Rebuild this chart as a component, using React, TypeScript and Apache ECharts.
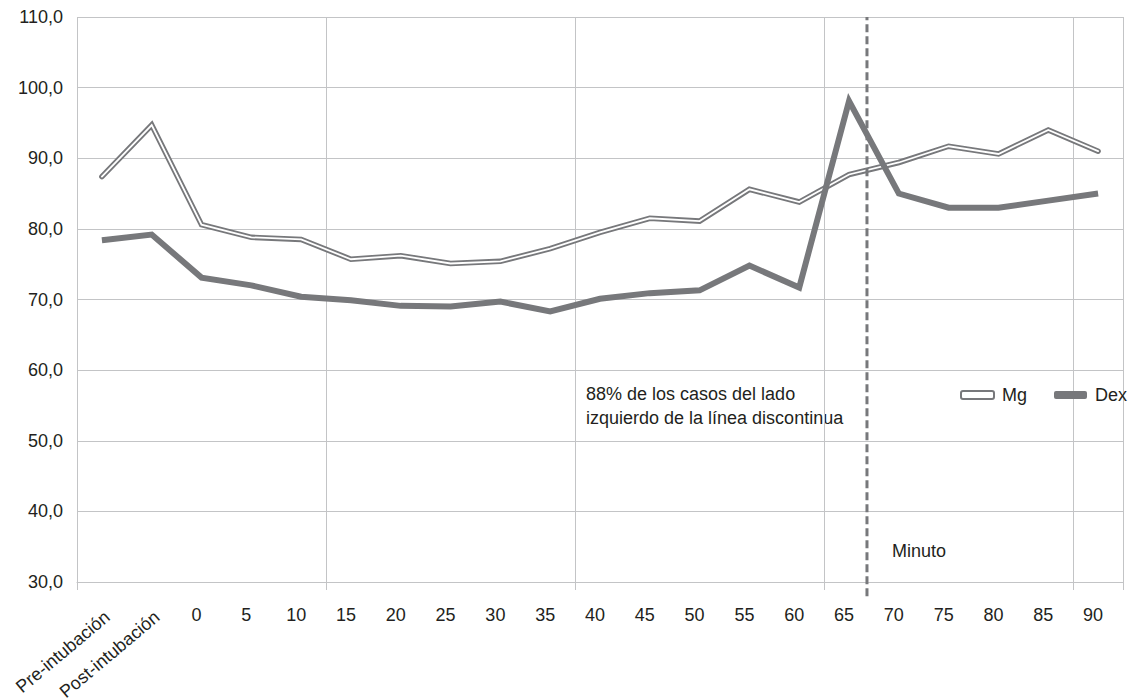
import { useEffect, useRef } from 'react';
import * as echarts from 'echarts';

const categories = [
  'Pre-intubación', 'Post-intubación', '0', '5', '10', '15', '20', '25', '30', '35',
  '40', '45', '50', '55', '60', '65', '70', '75', '80', '85', '90',
];
const mgValues = [
  87.4, 94.7, 80.6, 78.8, 78.5, 75.7, 76.2, 75.1, 75.4, 77.2,
  79.5, 81.5, 81.1, 85.6, 83.8, 87.7, 89.4, 91.7, 90.6, 94.0, 91.0,
];
const dexValues = [
  78.4, 79.2, 73.1, 72.0, 70.4, 69.9, 69.1, 69.0, 69.7, 68.3,
  70.1, 70.9, 71.3, 74.8, 71.7, 98.1, 85.0, 83.0, 83.0, 84.0, 85.0,
];
const yMin = 30;
const yMax = 110;
const yStep = 10;
// divider position, in category-index units (between "65" and "70")
const dividerPosition = 15.36;
const dividerLow = 28;
const seriesNames = ['Mg', 'Dex'];
const noteText = '88% de los casos del lado\nizquierdo de la línea discontinua';
const axisTitle = 'Minuto';

export default function App() {
  const ref = useRef<HTMLDivElement>(null);
  useEffect(() => {
    if (!ref.current) return;
    const chart = echarts.init(ref.current, null, { renderer: 'svg' });
    const gray = '#77787b';
    const gridGray = '#c3c4c6';
    const font = "'Liberation Sans', Arial, Helvetica, sans-serif";
    const textColor = '#231f20';
    const nRotated = 2;
    chart.setOption({
      animation: false,
      backgroundColor: '#ffffff',
      grid: {
        left: 77,
        right: 6,
        top: 17,
        bottom: 118,
        containLabel: false,
        outerBoundsMode: 'none',
      },
      xAxis: [
        {
          type: 'category',
          data: categories,
          boundaryGap: true,
          axisLine: { show: true, lineStyle: { color: gridGray, width: 1 } },
          axisTick: { show: true, interval: 4, length: 8, lineStyle: { color: gridGray } },
          splitLine: { show: true, interval: 4, lineStyle: { color: gridGray, width: 1 } },
          axisLabel: {
            interval: 0,
            margin: 24,
            fontSize: 18,
            color: textColor,
            fontFamily: font,
            padding: [0, 10, 0, 0],
            formatter: (v: string, i: number) => (i < nRotated ? '' : v),
          },
        },
        {
          type: 'category',
          data: categories,
          position: 'bottom',
          boundaryGap: true,
          axisLine: { show: false },
          axisTick: { show: false },
          splitLine: { show: false },
          axisLabel: {
            interval: 0,
            rotate: 40,
            margin: 37,
            fontSize: 18,
            color: textColor,
            fontFamily: font,
            padding: [0, -7, 0, 0],
            formatter: (v: string, i: number) => (i < nRotated ? v : ''),
          },
        },
        {
          type: 'value',
          min: -0.5,
          max: categories.length - 0.5,
          show: false,
        },
      ],
      yAxis: {
        type: 'value',
        min: yMin,
        max: yMax,
        interval: yStep,
        axisLine: { show: false },
        axisTick: { show: true, length: 7, lineStyle: { color: gridGray } },
        splitLine: { show: true, lineStyle: { color: gridGray, width: 1 } },
        axisLabel: {
          margin: 14,
          fontSize: 18,
          color: textColor,
          fontFamily: font,
          formatter: (v: number) => v.toFixed(1).replace('.', ','),
        },
      },
      legend: {
        orient: 'horizontal',
        left: 960,
        top: 386,
        width: 169,
        padding: 0,
        itemWidth: 33,
        itemHeight: 8,
        itemGap: 27,
        icon: 'roundRect',
        textStyle: { fontSize: 18, color: textColor, fontFamily: font, padding: [0, 0, 0, 3] },
        data: [
          { name: seriesNames[0], itemStyle: { color: '#ffffff', borderColor: gray, borderWidth: 2 } },
          { name: seriesNames[1], itemStyle: { color: gray, borderWidth: 0 } },
        ],
      },
      graphic: [
        {
          type: 'text',
          left: 586,
          top: 382,
          style: { text: noteText, fontSize: 18, fontFamily: font, fill: textColor, lineHeight: 24 },
        },
        {
          type: 'text',
          left: 892,
          top: 542,
          style: { text: axisTitle, fontSize: 18, fontFamily: font, fill: textColor },
        },
      ],
      series: [
        {
          type: 'line',
          name: seriesNames[0],
          data: mgValues,
          symbol: 'none',
          itemStyle: { color: gray },
          lineStyle: { color: gray, width: 5.5, join: 'miter', cap: 'round' },
          z: 2,
        },
        {
          type: 'line',
          name: 'Mg-inner',
          data: mgValues,
          symbol: 'none',
          itemStyle: { color: '#ffffff' },
          lineStyle: { color: '#ffffff', width: 1.8, join: 'miter', cap: 'round' },
          z: 3,
        },
        {
          type: 'line',
          name: seriesNames[1],
          data: dexValues,
          symbol: 'none',
          itemStyle: { color: gray },
          lineStyle: { color: gray, width: 6, join: 'miter' },
          z: 4,
        },
        {
          type: 'line',
          name: 'divider',
          xAxisIndex: 2,
          data: [
            [dividerPosition, dividerLow],
            [dividerPosition, yMax],
          ],
          symbol: 'none',
          clip: false,
          lineStyle: { color: gray, width: 3, type: [8, 4] },
          z: 5,
        },
      ],
    });
    return () => chart.dispose();
  }, []);
  return (
    <div
      ref={ref}
      style={{ position: 'fixed', left: 0, top: 0, width: 1129, height: 700, background: '#fff' }}
    />
  );
}
